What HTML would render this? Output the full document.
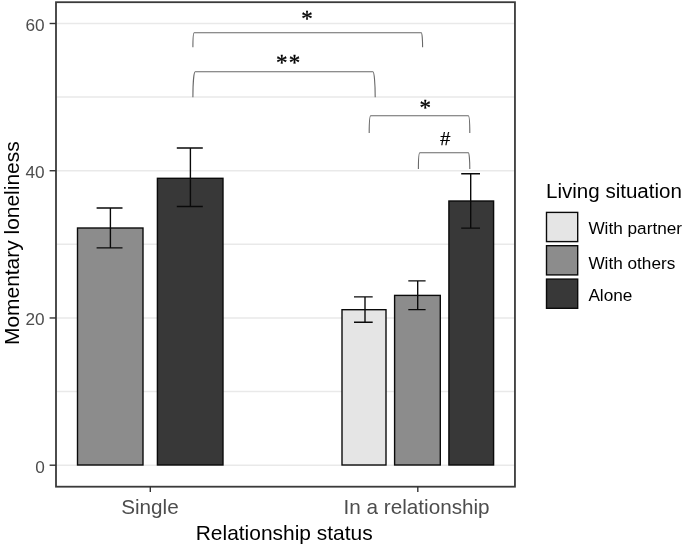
<!DOCTYPE html>
<html><head><meta charset="utf-8"><title>Momentary loneliness by relationship status</title>
<style>
html,body{margin:0;padding:0;background:#fff;}
svg{display:block}
text{font-family:"Liberation Sans",Arial,sans-serif;}
.ax{fill:#4d4d4d;font-size:17.2px}
.axx{fill:#4d4d4d;font-size:20.7px}
.ttl{fill:#000;font-size:20.95px}
.leg{fill:#000;font-size:17.2px}
.sig{font-family:"Liberation Serif",serif;fill:#000;font-size:23px;stroke:#000;stroke-width:0.3}
.hash{fill:#000;font-size:18px;stroke:#000;stroke-width:0.25}
.br{fill:none;stroke:#686868;stroke-width:1.1}
</style></head><body>
<svg width="685" height="547" viewBox="0 0 685 547">
<rect x="0" y="0" width="685" height="547" fill="#fff"/>

<line x1="56.0" x2="514.95" y1="465.20" y2="465.20" stroke="#e9e9e9" stroke-width="1.5"/>
<line x1="56.0" x2="514.95" y1="391.58" y2="391.58" stroke="#e9e9e9" stroke-width="1.5"/>
<line x1="56.0" x2="514.95" y1="317.97" y2="317.97" stroke="#e9e9e9" stroke-width="1.5"/>
<line x1="56.0" x2="514.95" y1="244.35" y2="244.35" stroke="#e9e9e9" stroke-width="1.5"/>
<line x1="56.0" x2="514.95" y1="170.73" y2="170.73" stroke="#e9e9e9" stroke-width="1.5"/>
<line x1="56.0" x2="514.95" y1="97.12" y2="97.12" stroke="#e9e9e9" stroke-width="1.5"/>
<line x1="56.0" x2="514.95" y1="23.50" y2="23.50" stroke="#e9e9e9" stroke-width="1.5"/>
<rect x="77.50" y="228.00" width="65.50" height="237.00" fill="#8c8c8c" stroke="#0a0a0a" stroke-width="1.38"/>
<rect x="157.40" y="178.30" width="65.60" height="286.70" fill="#383838" stroke="#0a0a0a" stroke-width="1.38"/>
<rect x="342.00" y="309.70" width="44.00" height="155.30" fill="#e5e5e5" stroke="#0a0a0a" stroke-width="1.38"/>
<rect x="394.60" y="295.40" width="45.70" height="169.60" fill="#8c8c8c" stroke="#0a0a0a" stroke-width="1.38"/>
<rect x="448.90" y="201.00" width="44.70" height="264.00" fill="#383838" stroke="#0a0a0a" stroke-width="1.38"/>
<path d="M96.6 208.0H122.5M96.6 247.9H122.5M110.4 208.0V247.9" fill="none" stroke="#0a0a0a" stroke-width="1.38"/>
<path d="M176.8 148.0H202.8M176.8 206.5H202.8M190.4 148.0V206.5" fill="none" stroke="#0a0a0a" stroke-width="1.38"/>
<path d="M354.0 296.9H372.7M354.0 322.3H372.7M365.0 296.9V322.3" fill="none" stroke="#0a0a0a" stroke-width="1.38"/>
<path d="M408.3 280.9H425.6M408.3 309.6H425.6M417.7 280.9V309.6" fill="none" stroke="#0a0a0a" stroke-width="1.38"/>
<path d="M461.2 173.8H480.0M461.2 228.1H480.0M470.7 173.8V228.1" fill="none" stroke="#0a0a0a" stroke-width="1.38"/>
<path class="br" d="M192.9 47.3A1.31 14.60 0 0 1 194.21 32.7H421.29A1.31 14.60 0 0 1 422.6 47.3"/>
<path class="br" d="M192.9 97.3A2.29 25.50 0 0 1 195.19 71.8H372.90A2.29 25.50 0 0 1 375.2 97.3"/>
<path class="br" d="M369.2 132.9A1.54 17.10 0 0 1 370.74 115.8H468.26A1.54 17.10 0 0 1 469.8 132.9"/>
<path class="br" d="M418.4 168.9A1.46 16.20 0 0 1 419.86 152.7H468.34A1.46 16.20 0 0 1 469.8 168.9"/>
<text class="sig" x="307" y="25.6" text-anchor="middle">*</text>
<text class="sig" x="288.8" y="70.3" text-anchor="middle" letter-spacing="1.4">**</text>
<text class="sig" x="425.3" y="115.4" text-anchor="middle">*</text>
<text class="hash" x="445.2" y="145.1" text-anchor="middle">#</text>
<rect x="56.0" y="2.2" width="458.95000000000005" height="484.5" fill="none" stroke="#3a3a3a" stroke-width="1.8"/>
<line x1="49.6" x2="56.0" y1="465.20" y2="465.20" stroke="#333" stroke-width="1.4"/>
<text class="ax" x="44.7" y="472.70" text-anchor="end">0</text>
<line x1="49.6" x2="56.0" y1="317.97" y2="317.97" stroke="#333" stroke-width="1.4"/>
<text class="ax" x="44.7" y="325.47" text-anchor="end">20</text>
<line x1="49.6" x2="56.0" y1="170.73" y2="170.73" stroke="#333" stroke-width="1.4"/>
<text class="ax" x="44.7" y="178.23" text-anchor="end">40</text>
<line x1="49.6" x2="56.0" y1="23.50" y2="23.50" stroke="#333" stroke-width="1.4"/>
<text class="ax" x="44.7" y="31.00" text-anchor="end">60</text>
<line x1="150.3" x2="150.3" y1="486.7" y2="492" stroke="#333" stroke-width="1.4"/>
<text class="axx" x="149.9" y="514.3" text-anchor="middle">Single</text>
<line x1="417.8" x2="417.8" y1="486.7" y2="492" stroke="#333" stroke-width="1.4"/>
<text class="axx" x="416.6" y="514.3" text-anchor="middle">In a relationship</text>
<text class="ttl" x="284.2" y="540.4" text-anchor="middle">Relationship status</text>
<text class="ttl" transform="translate(18.8,243.2) rotate(-90)" text-anchor="middle">Momentary loneliness</text>
<text class="ttl" x="546" y="198.3" style="font-size:20.55px">Living situation</text>
<rect x="546.50" y="212.40" width="31.20" height="29.20" fill="#e5e5e5" stroke="#0a0a0a" stroke-width="1.38"/>
<text class="leg" x="588.4" y="233.9">With partner</text>
<rect x="546.50" y="245.70" width="31.20" height="29.20" fill="#8c8c8c" stroke="#0a0a0a" stroke-width="1.38"/>
<text class="leg" x="588.4" y="268.6">With others</text>
<rect x="546.50" y="279.10" width="31.20" height="29.20" fill="#383838" stroke="#0a0a0a" stroke-width="1.38"/>
<text class="leg" x="588.4" y="301.2">Alone</text>
</svg>
</body></html>
